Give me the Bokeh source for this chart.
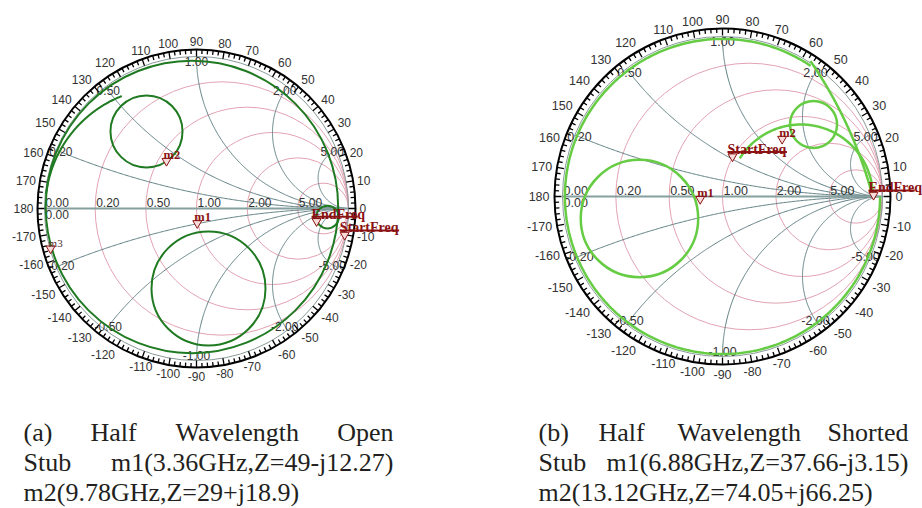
import numpy as np
from bokeh.plotting import figure
from bokeh.layouts import row
from bokeh.models import Range1d
from bokeh.core.properties import value
from bokeh.embed import file_html
from bokeh.resources import INLINE

# ---------------- data ----------------
Z0 = 50.0
r_values = [0.2, 0.5, 1.0, 2.0, 5.0]
r_labels = ["0.20", "0.50", "1.00", "2.00", "5.00"]
x_values = [0.2, 0.5, 1.0, 2.0, 5.0, -0.2, -0.5, -1.0, -2.0, -5.0]
x_labels = ["0.20", "0.50", "1.00", "2.00", "5.00",
            "-0.20", "-0.50", "-1.00", "-2.00", "-5.00"]
angle_values = [-170, -160, -150, -140, -130, -120, -110, -100, -90, -80, -70,
                -60, -50, -40, -30, -20, -10, 0, 10, 20, 30, 40, 50, 60, 70,
                80, 90, 100, 110, 120, 130, 140, 150, 160, 170, 180]

# chart (a): half wavelength open stub
a_marker_names = ["m1", "m2"]
a_marker_R = [49.0, 29.0]
a_marker_X = [-12.27, 18.9]
a_extra_names = ["StartFreq", "EndFreq", "m3"]
a_extra_gr = [0.975, 0.79, -0.96]
a_extra_gi = [-0.20, -0.11, -0.29]
a_circle_cx = [-0.03, -0.329, 0.079, 0.862]
a_circle_cy = [0.01, 0.507, -0.526, -0.056]
a_circle_r = [0.962, 0.237, 0.375, 0.075]
a_arc_cx = [-0.2]
a_arc_cy = [0.0]
a_arc_r = [0.795]
a_arc_start = [111.5]
a_arc_end = [173.0]
a_caption = ["(a)", "Half", "Wavelength", "Open", "Stub",
             "m1(3.36GHz,Z=49-j12.27)", "m2(9.78GHz,Z=29+j18.9)"]

# chart (b): half wavelength shorted stub
b_marker_names = ["m1", "m2"]
b_marker_R = [37.66, 74.05]
b_marker_X = [-3.15, 66.25]
b_extra_names = ["StartFreq", "EndFreq"]
b_extra_gr = [0.0625, 0.944]
b_extra_gi = [0.225, -0.015]
b_circle_cx = [-0.519, 0.569]
b_circle_cy = [-0.1375, 0.45]
b_circle_r = [0.367, 0.147]
b_arc_cx = [0.0, 0.49, -1.70]
b_arc_cy = [0.0, 0.0, -0.70]
b_arc_r = [0.985, 0.45, 2.73]
b_arc_start = [56.0, 0.0, 15.0]
b_arc_end = [360.0, 148.0, 34.5]
b_caption = ["(b)", "Half", "Wavelength", "Shorted", "Stub",
             "m1(6.88GHz,Z=37.66-j3.15)", "m2(13.12GHz,Z=74.05+j66.25)"]

# ---------------- styling / layout ----------------
H = 508
W = 461
PINK = "#e2a3b3"
GRAYARC = "#5f7f82"
AXISC = "#86a0a0"
DARKRED = "#8a1212"
LABELC = "#333333"
CAPC = "#231f20"


def make_fig(cx, cy, R, left):
    fx = cx - left
    fy = cy
    p = figure(width=W, height=H,
               x_range=Range1d(-fx / R, (W - fx) / R),
               y_range=Range1d(-(H - fy) / R, fy / R),
               output_backend="svg", toolbar_location=None, min_border=0,
               x_axis_location=None, y_axis_location=None)
    p.grid.visible = False
    p.outline_line_color = None
    p.background_fill_color = "white"
    p.border_fill_color = "white"
    return p


def gamma(Rv, Xv):
    z = complex(Rv, Xv) / Z0
    g = (z - 1) / (z + 1)
    return g.real, g.imag


def arc_points(x0, y0, r0, s_rad, e_rad):
    t = np.linspace(s_rad, e_rad, 240)
    return x0 + r0 * np.cos(t), y0 + r0 * np.sin(t)


def draw_chart(p, cx, cy, R, ring_px, lab_gap, fsize, trace_color, trace_w,
               circ, arcs, markers, extras, caption, cap_layout):
    px = 1.0 / R
    # resistance circles
    for r in r_values:
        p.circle(x=[r / (1 + r)], y=[0], radius=1 / (1 + r), fill_color=None,
                 line_color=PINK, line_width=1)
    # reactance arcs (inside the unit circle)
    xs, ys = [], []
    for xv in x_values:
        gr = (xv * xv - 1) / (xv * xv + 1)
        gi = 2 * xv / (xv * xv + 1)
        a_int = np.arctan2(gi - 1 / xv, gr - 1) % (2 * np.pi)
        if xv > 0:
            s, e = a_int, 1.5 * np.pi
        else:
            s, e = 0.5 * np.pi, a_int
        ax, ay = arc_points(1.0, 1 / xv, abs(1 / xv), s, e)
        xs.append(list(ax))
        ys.append(list(ay))
    p.multi_line(xs=xs, ys=ys, line_color=GRAYARC, line_width=1)
    # unit circle & real axis
    p.circle(x=[0], y=[0], radius=1.0, fill_color=None, line_color="#8a9a9a",
             line_width=1)
    p.line([-1, 1], [0, 0], line_color=AXISC, line_width=2)

    # grid labels
    font = value("Liberation Sans")
    for r, lab in zip(r_values, r_labels):
        g = (r - 1) / (r + 1)
        p.text(x=[g + 1 * px], y=[2 * px], text=[lab], text_font=font,
               text_font_size=fsize, text_color=LABELC, text_align="left",
               text_baseline="bottom")
    p.text(x=[-1 + 1 * px], y=[2 * px], text=["0.00"], text_font=font,
           text_font_size=fsize, text_color=LABELC, text_align="left",
           text_baseline="bottom")
    p.text(x=[-1 + 1 * px], y=[-1 * px], text=["0.00"], text_font=font,
           text_font_size=fsize, text_color=LABELC, text_align="left",
           text_baseline="top")
    for xv, lab in zip(x_values, x_labels):
        gr = (xv * xv - 1) / (xv * xv + 1)
        gi = 2 * xv / (xv * xv + 1)
        p.text(x=[gr * (1 - 5 * px)], y=[gi * (1 - 5 * px)], text=[lab],
               text_font=font, text_font_size=fsize, text_color=LABELC,
               text_align="center", text_baseline="middle")

    # tick ring
    ring = 1 + ring_px * px
    p.circle(x=[0], y=[0], radius=ring, fill_color=None, line_color="black",
             line_width=2)
    degs = np.arange(0, 360, 2)
    angs = np.radians(degs)
    inner = np.where(degs % 10 == 0, ring - 7 * px, ring - 4.5 * px)
    p.segment(x0=ring * np.cos(angs), y0=ring * np.sin(angs),
              x1=inner * np.cos(angs), y1=inner * np.sin(angs),
              line_color="black", line_width=1.3)
    rl = ring + lab_gap * px
    for a in angle_values:
        c, s = np.cos(np.radians(a)), np.sin(np.radians(a))
        al = "left" if c > 0.35 else ("right" if c < -0.35 else "center")
        bl = "bottom" if s > 0.35 else ("top" if s < -0.35 else "middle")
        p.text(x=[rl * c], y=[rl * s], text=[str(a)], text_font=font,
               text_font_size=fsize, text_color=LABELC, text_align=al,
               text_baseline=bl)

    # trace
    ccx, ccy, ccr = circ
    for x0, y0, r0 in zip(ccx, ccy, ccr):
        p.circle(x=[x0], y=[y0], radius=r0, fill_color=None,
                 line_color=trace_color, line_width=trace_w)
    acx, acy, acr, ast, aen = arcs
    for x0, y0, r0, s0, e0 in zip(acx, acy, acr, ast, aen):
        ax, ay = arc_points(x0, y0, r0, np.radians(s0), np.radians(e0))
        p.line(ax, ay, line_color=trace_color, line_width=trace_w)

    # markers
    sfont = value("Liberation Serif")
    names, Rs, Xs = markers
    for nm, Rv, Xv in zip(names, Rs, Xs):
        gx, gy = gamma(Rv, Xv)
        p.scatter(x=[gx], y=[gy + 4 * px], marker="inverted_triangle", size=9,
                  line_color=DARKRED, fill_color="#f7dcdc", line_width=1)
        p.text(x=[gx - 3 * px], y=[gy + 10 * px], text=[nm], text_font=sfont,
               text_font_style="bold", text_font_size="12.5px",
               text_color=DARKRED, text_align="left",
               text_baseline="alphabetic")
    enames, egr, egi = extras
    for nm, gx, gy in zip(enames, egr, egi):
        p.scatter(x=[gx], y=[gy + 4 * px], marker="inverted_triangle", size=9,
                  line_color=DARKRED, fill_color="#f7dcdc", line_width=1)
        if nm == "m3":
            p.text(x=[gx - 2 * px], y=[gy + 10 * px], text=[nm],
                   text_font=sfont, text_font_size="11px",
                   text_color="#503030", text_align="left",
                   text_baseline="alphabetic")
            continue
        p.text(x=[gx - 5 * px], y=[gy + 11 * px], text=[nm], text_font=sfont,
               text_font_style="bold", text_font_size="14px",
               text_color=DARKRED, text_align="left",
               text_baseline="alphabetic")
        wpx = 6.6 * len(nm)
        p.line([gx - 5 * px, gx - 5 * px + wpx * px],
               [gy + 8.5 * px, gy + 8.5 * px], line_color=DARKRED,
               line_width=2)

    # caption
    for txt, (pxp, pyp, al) in zip(caption, cap_layout):
        p.text(x=[(pxp - cx) / R], y=[(cy - pyp) / R], text=[txt],
               text_font=sfont, text_font_size="26px", text_color=CAPC,
               text_align=al, text_baseline="alphabetic")


A_CX, A_CY, A_R = 196.0, 208.0, 152.0
B_CX, B_CY, B_R = 722.0, 196.0, 160.0

pa = make_fig(A_CX, A_CY, A_R, 0)
a_cap_layout = [(23, 432, "left"), (90, 432, "left"), (175, 432, "left"),
                (393, 432, "right"), (23, 462, "left"), (393, 462, "right"),
                (23, 492, "left")]
draw_chart(pa, A_CX, A_CY, A_R, 7, 4, "12px", "#1f7a22", 2.0,
           (a_circle_cx, a_circle_cy, a_circle_r),
           (a_arc_cx, a_arc_cy, a_arc_r, a_arc_start, a_arc_end),
           (a_marker_names, a_marker_R, a_marker_X),
           (a_extra_names, a_extra_gr, a_extra_gi),
           a_caption, a_cap_layout)

pb = make_fig(B_CX, B_CY, B_R, W)
b_cap_layout = [(538, 432, "left"), (598, 432, "left"), (677, 432, "left"),
                (908, 432, "right"), (538, 462, "left"), (908, 462, "right"),
                (538, 492, "left")]
draw_chart(pb, B_CX, B_CY, B_R, 8, 5, "12.5px", "#66cc44", 2.5,
           (b_circle_cx, b_circle_cy, b_circle_r),
           (b_arc_cx, b_arc_cy, b_arc_r, b_arc_start, b_arc_end),
           (b_marker_names, b_marker_R, b_marker_X),
           (b_extra_names, b_extra_gr, b_extra_gi),
           b_caption, b_cap_layout)

layout = row(pa, pb)
open("out.html", "w").write(file_html(layout, INLINE))
